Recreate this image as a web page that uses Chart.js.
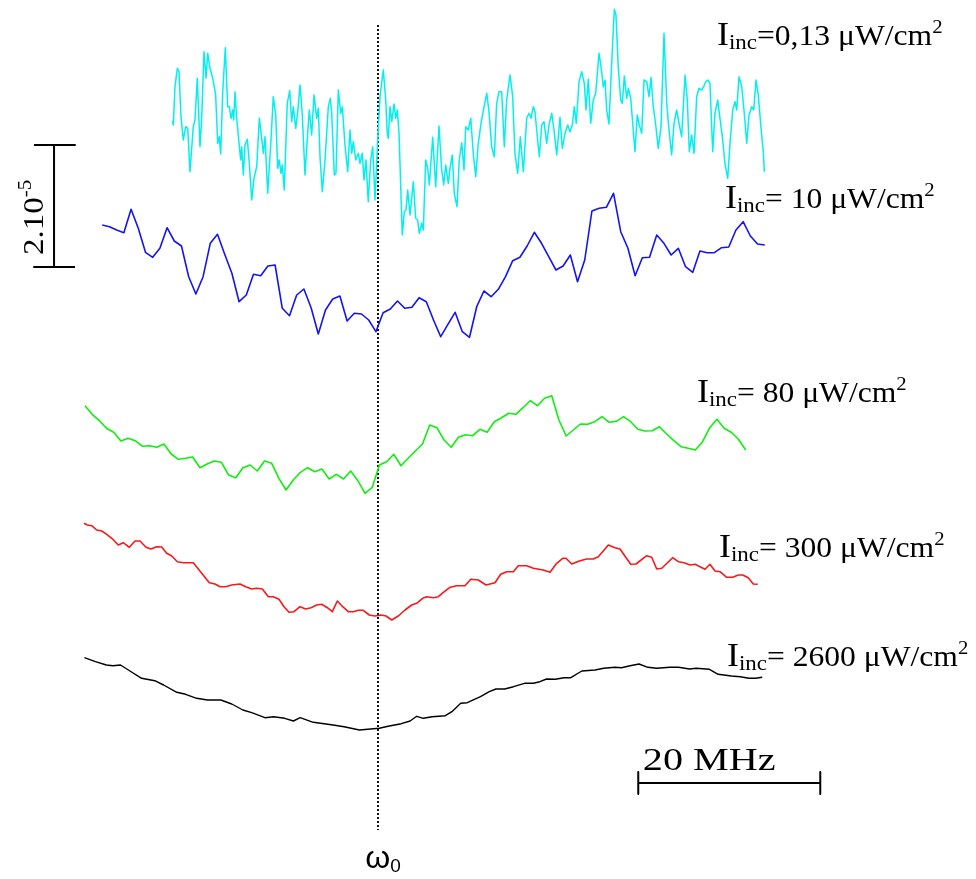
<!DOCTYPE html>
<html><head><meta charset="utf-8">
<script src="https://cdn.jsdelivr.net/npm/chart.js@4/dist/chart.umd.min.js"></script>
<style>html,body{margin:0;padding:0;background:#fff;}#wrap{width:976px;height:879px;position:relative;}</style>
</head><body><div id="wrap"><canvas id="c" width="976" height="879"></canvas></div>
<script>
// x: detuning in MHz relative to ω0 ; y: signal in arbitrary units (axis increasing downward, traces stacked)
const cyanFreq = [
-22.60,-22.49,-22.31,-22.05,-21.87,-21.65,-21.40,-21.13,-20.91,-20.66,-20.30,-20.11,-19.86,-19.56,-19.37,-19.12,-18.90,-18.71,-18.46,-18.16,
-17.84,-17.62,-17.44,-17.29,-17.07,-16.78,-16.52,-16.34,-16.15,-15.97,-15.86,-15.71,-15.53,-15.27,-15.09,-14.98,-14.80,-14.62,-14.36,-14.14,
-13.88,-13.63,-13.33,-13.04,-12.78,-12.60,-12.42,-12.12,-11.76,-11.51,-11.24,-11.02,-10.85,-10.66,-10.52,-10.30,-9.97,-9.70,-9.48,-9.31,
-9.04,-8.82,-8.57,-8.32,-8.02,-7.73,-7.55,-7.29,-7.03,-6.74,-6.56,-6.37,-6.12,-5.82,-5.46,-5.24,-5.09,-4.80,-4.62,-4.36,
-4.10,-3.92,-3.63,-3.33,-3.08,-2.89,-2.71,-2.45,-2.16,-1.98,-1.73,-1.54,-1.32,-1.07,-0.80,-0.58,-0.33,
-0.03,0.22,0.58,0.85,1.02,1.13,1.32,1.51,1.76,1.95,2.12,2.31,2.67,2.89,3.08,3.26,3.52,3.88,4.14,4.36,
4.54,4.80,4.98,5.24,5.46,5.64,6.01,6.34,6.70,7.00,7.22,7.44,7.73,7.91,8.16,8.38,8.68,8.93,9.20,9.45,
9.64,9.92,10.19,10.47,10.74,11.02,11.32,11.62,11.95,12.20,12.49,12.78,13.04,13.30,13.59,13.88,14.14,14.51,14.80,15.05,
15.35,15.64,15.97,16.34,16.59,16.81,17.07,17.25,17.51,17.73,17.99,18.24,18.54,18.79,19.09,19.34,19.64,20.00,20.25,20.55,
20.85,21.10,21.35,21.57,21.79,22.09,22.38,22.67,
22.86,23.11,23.37,23.66,23.92,24.29,24.51,24.76,24.95,25.13,25.38,25.68,25.97,26.15,26.41,26.67,26.85,27.07,27.33,27.51,
27.77,27.99,28.24,28.49,28.71,28.98,29.23,29.53,29.78,30.00,30.25,30.52,30.80,31.10,31.43,31.73,31.98,32.27,32.53,32.82,
33.11,33.37,33.74,33.99,34.21,34.47,34.73,35.02,35.27,35.57,35.79,36.01,36.23,36.48,36.78,37.03,37.33,37.58,37.84,38.13,
38.43,38.71,38.98,39.23,39.42,39.67,39.97,40.25,40.52,40.77,41.07,41.29,41.54,41.79,42.09,42.34,42.45];
const cyanSignal = [
120.7,125,86.7,68.3,71.7,116.7,140,126.7,128.3,171.7,126.7,120,78.3,146.7,116.7,51.7,78.3,53.3,68.3,78.3,
95,143.3,136.7,154,93.3,47.7,106.7,106.7,118.3,110,120,91.7,118.3,143.3,160,146.7,175,145,139.3,163.3,
200,178.3,166.7,118.3,138.3,153.3,136.7,193.3,140,96.7,115,168.3,160,173.3,165,190,103.3,90.7,121.7,106.7,
128.3,111.7,85,115,175,133.3,110,135,95,118.3,108.3,156.7,191.7,160,106.7,98.3,113.3,175,173.3,90,
113.3,106.7,145,171.7,130,153.3,141.7,160,153.3,163.3,153.3,180,160,201.7,160,146.7,200,
140,96.7,70,100,133.3,138.3,106.7,121.7,104,118.3,110,133.3,235,211.7,210,190,215,181.7,218.3,220,
233.3,223.3,230,160,168.3,185,137.3,186.7,126,170,185,165,183.3,168.3,155,193.3,206.7,160,142.7,170,
126.7,130,118.3,153.3,176.7,143.3,123.3,108.3,93.3,111.7,146.7,156.7,103.3,91.7,91.7,146.7,100,75,96.7,153.3,
173.3,136.7,171.7,118.3,113.3,118.3,106.7,111.7,136.7,156.7,125,121.7,143.3,125,113.3,130,155,117.3,148.3,133.3,
125,131.7,125,106.7,123.3,81.7,71.7,83.3,
110,79.3,123.3,100,93.3,53.3,66.7,86.7,80,110,124,63.3,9.3,15,68.3,100,103.3,76,98.3,88.3,
98.3,123.3,151.7,115,125,133.3,80,81.7,96.7,77.3,106.7,125,148.3,126.7,33.3,103.3,130,155,123.3,110,
125,136.7,75,100,151.7,135,153.3,96.7,88.3,90,86.7,81.7,80,83.3,151.7,113.3,100,118.3,136.7,163.3,
178.3,140,110,101.7,110,76.7,86.7,113.3,143.3,115,106.7,110,80,95,128.3,151.7,171.7];

const blueStart = -30.3, blueEnd = 42.5;
const blueSignal = [
225,226.7,230,232.7,209.3,228.3,252.3,257.3,248.3,227.7,241,246,276.7,294,276.7,243.3,234.3,254.3,273.3,301.7,
295,274.3,275.7,266,265,308.3,315.7,295,289,307.7,334,310,299,296,321,313.3,314,320,331.7,
312.7,309,301,308.3,307.3,297.7,301.7,320,336.7,324.3,312.3,331.7,337.3,306.7,291,296.7,289.3,276.7,260.7,257.3,
246,232.3,243.3,256.7,270,266,255,281.7,260,211,208.3,207.3,193.3,231.7,248.3,275.7,257.7,257.3,235,243.3,
255,248.3,266.7,272.3,251,252.7,252.7,247.7,247,230,221.7,236,244,245];

const greenStart = -32.2, greenEnd = 40.4;
const greenSignal = [
405.7,414.3,420.7,428.3,432.3,441,438.3,440.7,446.3,445.7,447.3,444,454,459.3,458.3,457,467.7,464,461,462.3,
475,477.7,467.7,465,471,461,463.3,478.3,490,480,472.3,467.7,471.7,469,479,474.3,479,471,480.7,493.3,487.3,465,
461.7,454.3,465.7,458.3,451,444,425,427.7,440,447.3,437.3,434.7,435.7,429.3,432.3,421.7,417.7,413.3,414.3,407.7,
400.7,405.7,398.3,395.7,420,436,430,424,424.3,421.7,416.7,422.3,421.3,416.7,421.7,429.3,431,430.7,426.7,434,
440.7,446.7,448.3,450,441.7,427.7,419.3,428.3,432.3,439.3,450];

const redFreq = [
-32.31,-31.95,-31.46,-30.91,-30.36,-29.81,-29.26,-28.54,-27.99,-27.33,
-26.70,-26.15,-25.49,-24.95,-24.32,-23.77,-23.22,-22.67,-22.05,-21.40,
-20.30,-19.37,-18.54,-17.91,-17.36,-16.74,-16.08,-15.16,-14.54,-13.88,
-13.33,-12.71,-12.05,-11.51,-10.88,-10.33,-9.78,-9.23,-8.57,-7.95,
-7.36,-6.74,-6.19,-5.57,-5.02,-4.47,-3.88,-3.26,-2.71,-2.16,
-1.62,-0.96,-0.33,0.33,0.88,1.51,2.23,2.97,3.70,4.25,
4.91,5.35,6.08,6.63,7.18,7.91,8.65,9.56,10.19,11.02,
11.87,12.86,13.48,14.14,14.87,15.42,16.34,17.07,18.16,18.90,
19.64,20.30,20.66,21.29,22.12,22.93,23.66,24.21,25.31,26.04,
26.59,27.77,28.35,29.53,30.08,30.63,31.18,32.38,33.00,33.63,
34.29,34.84,35.93,36.48,37.03,37.58,38.32,38.98,39.59,40.08,
40.69,41.24,41.73];
const redSignal = [
523.3,525,525.7,530,531,534.3,538.3,545,542.7,547.3,
541,541,547.3,549,546.7,547,553.3,556,561.7,562.7,
562.7,573.3,582.7,584,586.7,586.7,585,584,586.7,589,
588.3,589,596.7,596.7,599.3,606.7,612.3,611.7,606.7,609,
607.7,605,604.3,607.7,611.7,601,606.7,611.7,611.7,610.3,
610.3,615,616,615,616,620,616,610,605,603.3,
598.3,596.7,597.7,596.7,592.3,587.3,585.7,585.7,579.3,580,
585,582.7,574.3,571.7,571.7,565.7,565.7,568.3,570,572.3,
563.3,558.3,558.3,564,561,559,559,556.7,545,547.7,
549,564.3,564,555.7,557.3,569,568.3,557.7,561.7,562.7,
565,564.3,569.3,564.3,571,571.7,577.3,577.3,575,575,
577.7,584,584.3];

const blackFreq = [
-32.26,-31.05,-29.85,-29.12,-28.30,-27.43,-25.98,-24.53,-23.56,-22.11,
-21.14,-19.93,-18.73,-17.27,-16.07,-14.85,-13.88,-12.43,-11.46,-10.25,
-9.29,-8.56,-7.11,-4.93,-3.73,-2.03,-0.82,0.14,1.11,2.56,
3.53,4.25,4.98,5.95,7.40,8.12,9.09,9.81,11.26,12.23,
12.96,13.92,14.89,16.10,17.07,17.79,18.52,19.48,20.45,21.19,
22.40,23.85,24.81,26.02,26.75,27.71,28.68,29.65,30.62,32.07,
33.03,34.24,34.97,36.42,37.38,38.84,39.80,40.77,41.49,42.22];
const blackSignal = [
657.7,661.7,665,665.7,665,670,678.3,680.7,685,692.3,
694.3,698.3,700,700,704,710,712.7,717.7,716.7,718.3,
721,717.7,722.3,725,726.7,730,729,728.3,726.3,723.7,
721,716.3,718.3,716.7,715.7,711.7,703.3,702.7,696.7,691.7,
689,689,686.7,683.3,683.3,681.7,679,679.3,677.7,677.7,
671,670,668.3,667.3,667.7,665.7,664,667.3,668.3,667.3,
667.3,669,668.3,669.3,674.3,676,676.7,678.3,678.3,677.3];

// labels
const intensityValues = ['0,13', ' 10', ' 80', ' 300', ' 2600'];
const intensityLabelFreq = [37.25, 38.13, 35.05, 37.47, 38.35];
const intensityLabelSignal = [45, 208, 402, 557, 666];
const scaleBarMHz = 20;          // horizontal scale bar length (MHz)
const scaleBarText = '20 MHz';
const ampBarText = '2.10';
const ampBarExp = '-5';
const resonanceLabel = 'ω';

function grid(a, b, n) { const out = []; for (let i = 0; i < n; i++) out.push(a + i * (b - a) / (n - 1)); return out; }
function pts(fx, sy) { return fx.map((f, i) => ({x: f, y: sy[i]})); }

const blueFreq = grid(blueStart, blueEnd, blueSignal.length);
const greenFreq = grid(greenStart, greenEnd, greenSignal.length);

const lineDs = (data, color, w) => ({data, borderColor: color, borderWidth: w, pointRadius: 0, showLine: true, fill: false, tension: 0});

const barX0 = 28.6, barY = 783;
const ampBarX = -35.6, ampTop = 145, ampBottom = 267;

const datasets = [
  lineDs(pts(cyanFreq, cyanSignal), '#00f0f0', 1.5),
  lineDs(pts(blueFreq, blueSignal), '#1414f0', 1.6),
  lineDs(pts(greenFreq, greenSignal), '#10ee10', 1.6),
  lineDs(pts(redFreq, redSignal), '#fa1818', 1.6),
  lineDs(pts(blackFreq, blackSignal), '#000000', 1.4),
  Object.assign(lineDs([{x:0,y:25},{x:0,y:830}], '#111', 2), {borderDash:[2,2]}),
  lineDs([{x:barX0,y:barY-11},{x:barX0,y:barY+11},{x:barX0,y:barY},{x:barX0+scaleBarMHz,y:barY},{x:barX0+scaleBarMHz,y:barY-11},{x:barX0+scaleBarMHz,y:barY+11}], '#000', 2),
  lineDs([{x:ampBarX-2.2,y:ampTop},{x:ampBarX+2.3,y:ampTop},{x:ampBarX,y:ampTop},{x:ampBarX,y:ampBottom},{x:ampBarX-2.2,y:ampBottom},{x:ampBarX+2.3,y:ampBottom}], '#000', 2)
];

const SERIF = '"Liberation Serif", "Times New Roman", serif';
function richWidth(ctx, parts) {
  let w = 0;
  for (const p of parts) { ctx.font = p.size + 'px ' + (p.fam || SERIF); w += ctx.measureText(p.t).width; }
  return w;
}
function rich(ctx, x0, y0, parts, sx) {
  sx = sx || 1;
  ctx.save();
  ctx.translate(x0, y0);
  ctx.scale(sx, 1);
  let x = 0;
  for (const p of parts) {
    ctx.font = p.size + 'px ' + (p.fam || SERIF);
    ctx.fillText(p.t, x, p.dy || 0);
    x += ctx.measureText(p.t).width;
  }
  ctx.restore();
}

const textPlugin = {
  id: 'texts',
  afterDatasetsDraw(chart) {
    const {ctx, scales: {x, y}} = chart;
    ctx.save();
    ctx.fillStyle = '#000';
    ctx.textBaseline = 'alphabetic';
    ctx.textAlign = 'left';
    intensityValues.forEach((v, i) => {
      rich(ctx, x.getPixelForValue(intensityLabelFreq[i]), y.getPixelForValue(intensityLabelSignal[i]), [
        {t: 'I', size: 33}, {t: 'inc', size: 21, dy: 4}, {t: '=' + v + ' μW/cm', size: 29}, {t: '2', size: 19, dy: -12}
      ], 1.09);
    });
    // horizontal scale bar text over the left part of the bar
    const sbParts = [{t: scaleBarText, size: 32}];
    const sbLeft = x.getPixelForValue(barX0 + 0.5), sbRight = x.getPixelForValue(barX0 + 15.1);
    rich(ctx, sbLeft, y.getPixelForValue(barY - 13), sbParts, (sbRight - sbLeft) / richWidth(ctx, sbParts));
    // vertical scale bar text (rotated)
    ctx.save();
    ctx.translate(x.getPixelForValue(ampBarX - 1.2), y.getPixelForValue(ampBottom - 12));
    ctx.rotate(-Math.PI / 2);
    rich(ctx, 0, 0, [{t: ampBarText, size: 30}, {t: ampBarExp, size: 19, dy: -12}], 1.1);
    ctx.restore();
    // resonance label
    rich(ctx, x.getPixelForValue(-1.4), y.getPixelForValue(868), [
      {t: resonanceLabel, size: 32, fam: '"Liberation Sans", Arial, sans-serif'},
      {t: '0', size: 19, dy: 4, fam: '"Liberation Sans", Arial, sans-serif'}
    ]);
    ctx.restore();
  }
};

new Chart(document.getElementById('c'), {
  type: 'scatter',
  data: {datasets},
  options: {
    responsive: false, animation: false, devicePixelRatio: 1,
    layout: {padding: 0},
    plugins: {legend: {display: false}, tooltip: {enabled: false}},
    scales: {
      x: {type: 'linear', display: false, min: -378 / 9.1, max: 598 / 9.1},
      y: {type: 'linear', display: false, min: 0, max: 879, reverse: true}
    },
    elements: {line: {borderJoinStyle: 'round'}}
  },
  plugins: [textPlugin]
});
</script></body></html>
